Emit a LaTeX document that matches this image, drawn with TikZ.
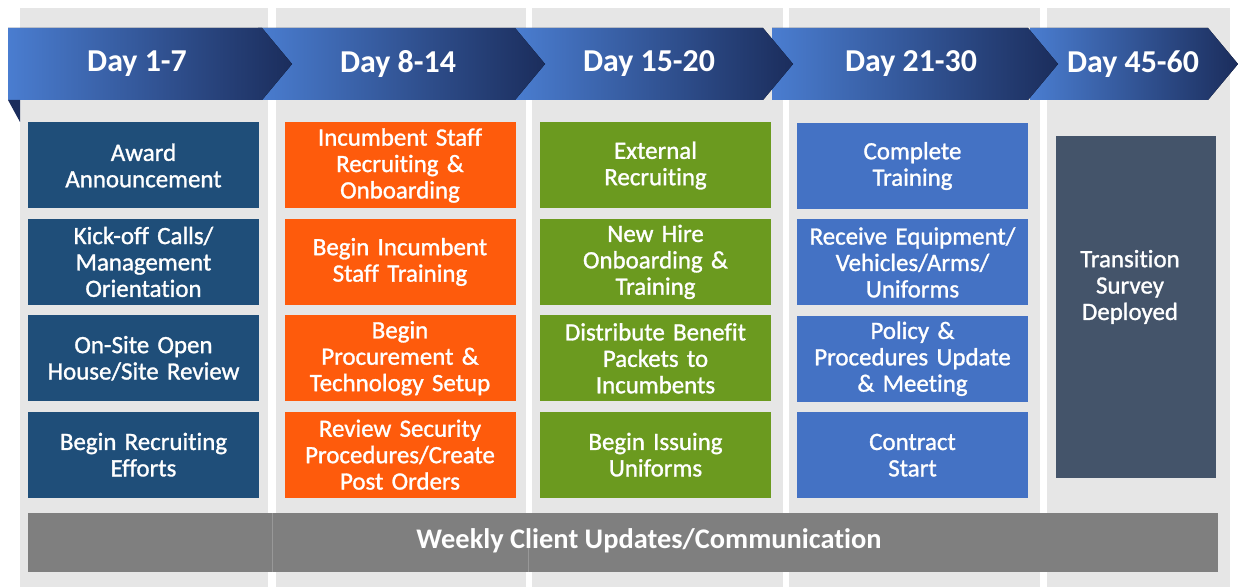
\documentclass[tikz,border=0pt]{standalone}
\usepackage{fontspec}
\setmainfont{Carlito}[Ligatures=NoCommon]
\newfontfamily\taskfont{Carlito}[Ligatures=NoCommon,FakeBold=1.2]
\usetikzlibrary{positioning}
\definecolor{colbg}{HTML}{E6E6E6}
\definecolor{navybox}{HTML}{1F4E79}
\definecolor{orangebox}{HTML}{FE5B0C}
\definecolor{greenbox}{HTML}{6B9A1F}
\definecolor{bluebox}{HTML}{4472C4}
\definecolor{slatebox}{HTML}{44546A}
\definecolor{barbox}{HTML}{7F7F7F}
\definecolor{ribbonlight}{HTML}{4A7DD0}
\definecolor{ribbondark}{HTML}{1B2D5C}

\begin{document}
\begin{tikzpicture}[x=1bp,y=-1bp,
  task/.style={minimum width=231bp,minimum height=86bp,text width=229bp,align=center,text=white,inner sep=0pt,font=\taskfont\fontsize{25}{26.5}\selectfont},
  ribbon/.style={left color=ribbonlight,right color=ribbondark},
  day/.style={text=white,font=\fontsize{32}{36}\selectfont\bfseries}]
\useasboundingbox[fill=white] (0,0) rectangle (1238,587);
% column panels
\fill[colbg] (20,8) rectangle (268,587);
\fill[colbg] (276,8) rectangle (526,587);
\fill[colbg] (532,8) rectangle (783,587);
\fill[colbg] (789,8) rectangle (1040,587);
\fill[colbg] (1047,8) rectangle (1230,587);
% ribbon, right to left
\fill[ribbon] (1030,28) -- (1208,28) -- (1238,64) -- (1208,100) -- (1030,100) -- cycle;
\fill[ribbon] (772,28) -- (1028,28) -- (1058,64) -- (1028,100) -- (772,100) -- cycle;
\fill[ribbon] (515,28) -- (763,28) -- (793,64) -- (763,100) -- (515,100) -- cycle;
\fill[ribbon] (258,28) -- (515,28) -- (545,64) -- (515,100) -- (258,100) -- cycle;
\fill[ribbon] (8,28) -- (262,28) -- (292,64) -- (262,100) -- (8,100) -- cycle;
\fill[ribbondark] (8,100) -- (20,100) -- (20,122) -- cycle;
\node[day] (d1) at (137,64) {Day 1-7};
\node[day] (d2) at (398,64) {Day 8-14};
\node[day] (d3) at (649,64) {Day 15-20};
\node[day] (d4) at (911,64) {Day 21-30};
\node[day] (d5) at (1133,64) {Day 45-60};
% tasks
\node[task,fill=navybox] (a1) at (143.5,165.5) {Award\\Announcement};
\node[task,fill=navybox,below=10bp of a1] (a2) {Kick-off Calls/\\Management\\Orientation};
\node[task,fill=navybox,below=10bp of a2] (a3) {On-Site Open\\House/Site Review};
\node[task,fill=navybox,below=10bp of a3] (a4) {Begin Recruiting\\Efforts};
\node[task,fill=orangebox] (b1) at (400,165.5) {Incumbent Staff\\Recruiting \&\\Onboarding};
\node[task,fill=orangebox,below=10bp of b1] (b2) {Begin Incumbent\\Staff Training};
\node[task,fill=orangebox,below=10bp of b2] (b3) {Begin\\Procurement \&\\Technology Setup};
\node[task,fill=orangebox,below=10bp of b3] (b4) {Review Security\\Procedures/Create\\Post Orders};
\node[task,fill=greenbox] (c1) at (655.5,165.5) {External\\Recruiting};
\node[task,fill=greenbox,below=10bp of c1] (c2) {New Hire\\Onboarding \&\\Training};
\node[task,fill=greenbox,below=10bp of c2] (c3) {Distribute Benefit\\Packets to\\Incumbents};
\node[task,fill=greenbox,below=10bp of c3] (c4) {Begin Issuing\\Uniforms};
\node[task,fill=bluebox] (e1) at (912.5,166) {Complete\\Training};
\node[task,fill=bluebox,below=10bp of e1] (e2) {Receive Equipment/\\Vehicles/Arms/\\Uniforms};
\node[task,fill=bluebox,below=10bp of e2] (e3) {Policy \&\\Procedures Update\\\& Meeting};
\node[task,fill=bluebox,below=10bp of e3] (e4) {Contract\\Start};
\node[fill=slatebox,minimum width=160bp,minimum height=342bp,inner sep=0pt] (f1) at (1136,307) {};
\node[task,text width=155bp] (f1txt) at (1130,287) {Transition\\Survey\\Deployed};
% weekly bar
\node[fill=barbox,minimum width=1190bp,minimum height=59bp,inner sep=0pt] (upd) at (623,542.5) {};
\draw[barbox!80!white,thin] (272,513) -- (272,572);
\draw[barbox!80!white,thin] (528,540) -- (528,572);
\node[text=white,font=\fontsize{28.5}{32}\selectfont\bfseries] (updtxt) at (649,541) {Weekly Client Updates/Communication};
\end{tikzpicture}
\end{document}
